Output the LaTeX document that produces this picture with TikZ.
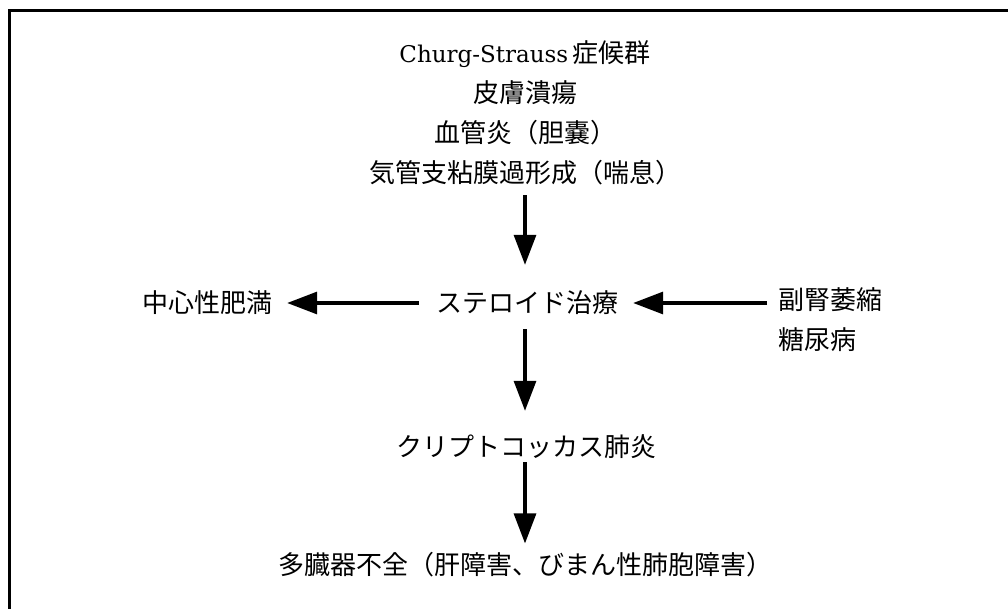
\documentclass[tikz,border=0pt]{standalone}
\usepackage{fontspec}
\setmainfont{DejaVu Serif}
\newfontfamily\cjk{Noto Sans CJK JP}
\usetikzlibrary{arrows.meta}
\tikzset{
  lbl/.style={inner sep=0pt, font=\cjk\fontsize{26}{40}\selectfont, align=center},
  flow/.style={line width=3.2pt, -{Triangle[width=22pt,length=30pt]}},
  frame/.style={line width=3pt}
}
\begin{document}
\begin{tikzpicture}[x=1pt,y=-1pt]
\useasboundingbox (0,0) rectangle (1008,609);
\coordinate (fl) at (9.5,609);
\coordinate (fc) at (9.5,10.5);
\coordinate (fr) at (1008,10.5);
\draw[frame] (fl) -- (fc) -- (fr);

\node[lbl] (top) at (525,113) {{\rmfamily\fontsize{23}{40}\selectfont Churg-Strauss}\,症候群\\皮膚潰瘍\\血管炎（胆嚢）\\気管支粘膜過形成（喘息）};
\node[lbl] (ster) at (527,303) {ステロイド治療};
\node[lbl] (obes) at (207,303) {中心性肥満};
\node[lbl, align=left, anchor=north west] (adr) at (778,287) {副腎萎縮\\糖尿病};
\node[lbl] (cryp) at (526,447) {クリプトコッカス肺炎};
\node[lbl] (multi) at (525,565) {多臓器不全（肝障害、びまん性肺胞障害）};

\draw[flow] ([yshift=-10pt]top.south) -- ([xshift=-2pt,yshift=26pt]ster.north);
\draw[flow] ([xshift=-17pt]ster.west) -- ([xshift=15pt]obes.east);
\draw[flow] ([xshift=-11pt]adr.west |- ster.east) -- ([xshift=15pt]ster.east);
\draw[flow] ([xshift=-2pt,yshift=-14pt]ster.south) -- ([xshift=-1pt,yshift=24pt]cryp.north);
\draw[flow] ([xshift=-1pt,yshift=-3pt]cryp.south) -- ([yshift=9pt]multi.north);
\end{tikzpicture}
\end{document}
